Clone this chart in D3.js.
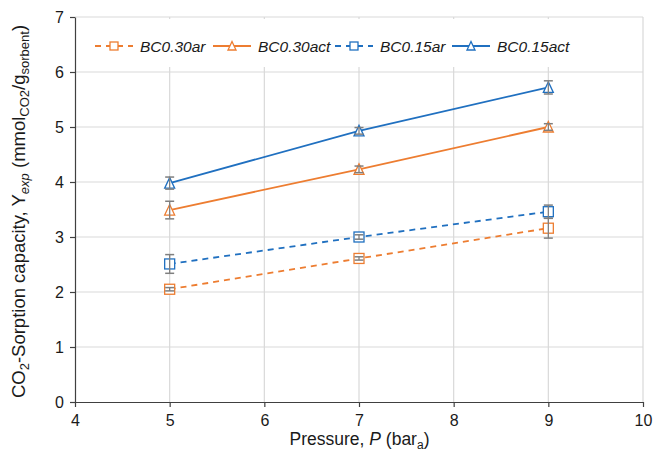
<!DOCTYPE html>
<html>
<head>
<meta charset="utf-8">
<script src="https://d3js.org/d3.v7.min.js"></script>
<style>
  body { margin: 0; background: #fff; }
  text { font-family: "Liberation Sans", Arial, sans-serif; fill: #1a1a1a; }
</style>
</head>
<body>
<div id="chart"></div>
<script>
// data
var pressure = [5, 7, 9];
var seriesNames = ["BC0.30ar", "BC0.30act", "BC0.15ar", "BC0.15act"];
var bc030ar = [2.05, 2.61, 3.16];
var bc030arErr = [0.03, 0.03, 0.18];
var bc030act = [3.49, 4.23, 5.00];
var bc030actErr = [0.16, 0.06, 0.06];
var bc015ar = [2.51, 3.00, 3.46];
var bc015arErr = [0.17, 0.04, 0.12];
var bc015act = [3.98, 4.93, 5.72];
var bc015actErr = [0.11, 0.06, 0.12];
var xTicks = [4, 5, 6, 7, 8, 9, 10];
var yTicks = [0, 1, 2, 3, 4, 5, 6, 7];

var orange = "#ed7d31", blue = "#2070c0";
var series = [
  {name: seriesNames[0], vals: bc030ar, err: bc030arErr, color: orange, dash: "6,5", shape: "square"},
  {name: seriesNames[1], vals: bc030act, err: bc030actErr, color: orange, dash: null, shape: "triangle"},
  {name: seriesNames[2], vals: bc015ar, err: bc015arErr, color: blue, dash: "6,5", shape: "square"},
  {name: seriesNames[3], vals: bc015act, err: bc015actErr, color: blue, dash: null, shape: "triangle"}
];

var W = 654, H = 458;
var margin = {top: 17, right: 10, bottom: 56, left: 75};
var width = W - margin.left - margin.right,
    height = H - margin.top - margin.bottom;

var svg = d3.select("#chart").append("svg")
    .attr("width", W).attr("height", H);
var g = svg.append("g")
    .attr("transform", "translate(" + margin.left + "," + margin.top + ")");

var x = d3.scaleLinear().domain([4, 10]).range([0, width - 1]);
var y = d3.scaleLinear().domain([0, 7]).range([height, 0]);

// gridlines
g.append("g").selectAll("line").data(yTicks.slice(1)).enter().append("line")
  .attr("x1", 0).attr("x2", x(10))
  .attr("y1", d => y(d)).attr("y2", d => y(d))
  .style("stroke", "#d9d9d9").style("stroke-width", 1.2);
g.append("g").selectAll("line").data(xTicks.slice(1)).enter().append("line")
  .attr("x1", d => x(d)).attr("x2", d => x(d))
  .attr("y1", 0).attr("y2", height)
  .style("stroke", "#d9d9d9").style("stroke-width", 1.2);

// legend background hides the gridlines behind it
g.append("rect")
  .attr("x", 8).attr("y", 2).attr("width", x(9.8) - 8).attr("height", 48)
  .style("fill", "#fff");

// axes
var xAxis = g.append("g")
  .attr("transform", "translate(0," + height + ")")
  .call(d3.axisBottom(x).tickValues(xTicks).tickSize(5).tickSizeOuter(0).tickFormat(d3.format("d")));
var yAxis = g.append("g")
  .call(d3.axisLeft(y).tickValues(yTicks).tickSize(5).tickSizeOuter(0).tickFormat(d3.format("d")));
[xAxis, yAxis].forEach(function(a) {
  a.selectAll("path, line").style("stroke", "#404040").style("stroke-width", 1.2);
  a.selectAll("text").style("font-size", "16px").style("fill", "#1a1a1a")
    .style("font-family", "Liberation Sans, Arial, sans-serif");
});
xAxis.selectAll("text").attr("dy", "1.0em");
yAxis.selectAll("text").attr("x", -11);

// lines
var line = d3.line().x((d, i) => x(pressure[i])).y(d => y(d));
series.forEach(function(s) {
  g.append("path").datum(s.vals)
    .attr("d", line)
    .style("fill", "none").style("stroke", s.color).style("stroke-width", 1.8)
    .style("stroke-dasharray", s.dash);
});

function marker(sel, s, cx, cy, r) {
  if (s.shape === "square") {
    sel.append("rect").attr("x", cx - r).attr("y", cy - r).attr("width", 2 * r).attr("height", 2 * r)
      .style("fill", "#fff").style("stroke", s.color).style("stroke-width", 1.3);
  } else {
    sel.append("path")
      .attr("d", "M" + cx + "," + (cy - r - 0.5) + "L" + (cx + r) + "," + (cy + r) + "L" + (cx - r) + "," + (cy + r) + "Z")
      .style("fill", "#fff").style("stroke", s.color).style("stroke-width", 1.3);
  }
}

// markers and error bars
series.forEach(function(s) {
  var gs = g.append("g");
  s.vals.forEach(function(v, i) {
    var cx = x(pressure[i]);
    marker(gs, s, cx, y(v), 5);
    var lo = y(v - s.err[i]), hi = y(v + s.err[i]);
    gs.append("line").attr("x1", cx).attr("x2", cx).attr("y1", lo).attr("y2", hi)
      .style("stroke", "#7f7f7f").style("stroke-width", 1.3);
    [lo, hi].forEach(function(yy) {
      gs.append("line").attr("x1", cx - 4.5).attr("x2", cx + 4.5).attr("y1", yy).attr("y2", yy)
        .style("stroke", "#7f7f7f").style("stroke-width", 1.5);
    });
  });
});

// legend
var legX = [95, 213, 335, 452];
var legY = 46;
series.forEach(function(s, i) {
  var lg = svg.append("g");
  lg.append("line").attr("x1", legX[i]).attr("x2", legX[i] + 38).attr("y1", legY).attr("y2", legY)
    .style("stroke", s.color).style("stroke-width", 1.8).style("stroke-dasharray", s.dash ? "6,5" : null);
  marker(lg, s, legX[i] + 19, legY, 4);
  lg.append("text").attr("x", legX[i] + 45).attr("y", legY + 5.5)
    .style("font-size", "15.5px").style("font-style", "italic").text(s.name);
});

// axis titles
var xt = svg.append("text")
  .attr("x", margin.left + width / 2).attr("y", 445)
  .attr("text-anchor", "middle").style("font-size", "17.5px");
xt.append("tspan").text("Pressure, ");
xt.append("tspan").style("font-style", "italic").text("P");
xt.append("tspan").text(" (bar");
xt.append("tspan").attr("dy", 4).style("font-size", "12px").text("a");
xt.append("tspan").attr("dy", -4).text(")");

var yt = svg.append("text")
  .attr("transform", "translate(25," + (margin.top + height / 2 + 2) + ") rotate(-90)")
  .attr("text-anchor", "middle").style("font-size", "18.5px");
yt.append("tspan").text("CO");
yt.append("tspan").attr("dy", 4).style("font-size", "13px").text("2");
yt.append("tspan").attr("dy", -4).text("-Sorption capacity, ");
yt.append("tspan").text("Y");
yt.append("tspan").attr("dy", 4).style("font-size", "13px").style("font-style", "italic").text("exp");
yt.append("tspan").attr("dy", -4).text(" (mmol");
yt.append("tspan").attr("dy", 4).style("font-size", "13px").text("CO2");
yt.append("tspan").attr("dy", -4).text("/g");
yt.append("tspan").attr("dy", 4).style("font-size", "13px").text("sorbent");
yt.append("tspan").attr("dy", -4).text(")");
</script>
</body>
</html>
